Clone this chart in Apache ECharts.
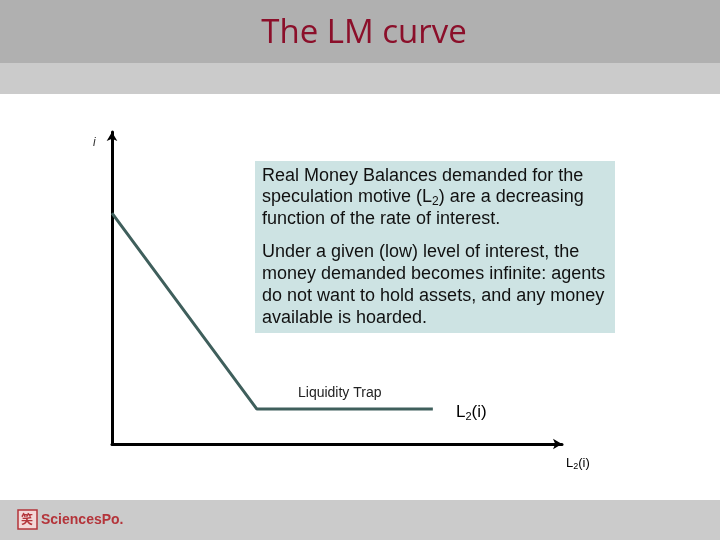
<!DOCTYPE html>
<html>
<head>
<meta charset="utf-8">
<script src="https://cdn.jsdelivr.net/npm/echarts@6/dist/echarts.min.js"></script>
<style>
html,body{margin:0;padding:0;background:#fff;}
#c{width:720px;height:540px;}
</style>
</head>
<body>
<div id="c"></div>
<script>
// Data (L2 demand curve: money balances vs interest rate)
var moneyValues = [0, 32.2, 71.3];
var interestValues = [74, 11.2, 11.2];
var titleText = 'The LM curve';
var boxParagraph1 = ['{n|Real Money Balances demanded for the}', '{n|speculation motive (L}{s|2}{n|) are a decreasing}', '{n|function of the rate of interest.}'];
var boxParagraph2 = ['{n|Under a given (low) level of interest, the}', '{n|money demanded becomes infinite: agents}', '{n|do not want to hold assets, and any money}', '{n|available is hoarded.}'];

var points = moneyValues.map(function (x, i) { return [x, interestValues[i]]; });

var chart = echarts.init(document.getElementById('c'), null, {renderer: 'canvas'});

var textRich = {
  n: {fontFamily: 'Liberation Sans, Arial', fontSize: 18, color: '#111', lineHeight: 20},
  s: {fontFamily: 'Liberation Sans, Arial', fontSize: 12, color: '#111', lineHeight: 20, padding: [9, 0, 0, 0]}
};

function lineTxt(str, y) {
  return {type: 'text', left: 262, top: y, z: 10,
    style: {text: str, rich: textRich, fill: '#111'}};
}

var graphics = [
  {type: 'rect', shape: {x: 0, y: 0, width: 720, height: 63}, style: {fill: '#b0b0b0'}, z: 0},
  {type: 'rect', shape: {x: 0, y: 63, width: 720, height: 31}, style: {fill: '#cbcbcb'}, z: 0},
  {type: 'rect', shape: {x: 0, y: 500, width: 720, height: 40}, style: {fill: '#cbcbcb'}, z: 0},
  {type: 'text', x: 364, y: 34, z: 5, style: {text: titleText, fill: '#8b0f2a', font: '33px "Open Sans", sans-serif', textAlign: 'center', textVerticalAlign: 'middle'}},
  {type: 'rect', shape: {x: 255, y: 161, width: 360, height: 172}, style: {fill: '#cde3e3'}, z: 5},
  // footer logo
  {type: 'rect', shape: {x: 18, y: 510, width: 19, height: 19}, style: {fill: '#f3d8d8', stroke: '#b4343a', lineWidth: 1.5}, z: 5},
  {type: 'text', x: 21, y: 519, z: 6, style: {text: '\u7B11', fill: '#b4343a', font: 'bold 12px "Noto Sans CJK SC"', textVerticalAlign: 'middle'}},
  {type: 'text', x: 41, y: 520, z: 6, style: {text: 'SciencesPo.', fill: '#b4343a', font: 'bold 14px "Liberation Sans", Arial', textVerticalAlign: 'middle'}},
  // axis labels
  {type: 'text', x: 93, y: 143, z: 6, style: {text: 'i', fill: '#333', font: 'italic 12px "Liberation Sans", Arial', textVerticalAlign: 'middle'}},
  {type: 'text', x: 298, y: 393, z: 6, style: {text: 'Liquidity Trap', fill: '#222', font: '14px "Liberation Sans", Arial', textVerticalAlign: 'middle'}},
  {type: 'text', x: 456, y: 412, z: 6, style: {text: '{a|L}{b|2}{a|(i)}', rich: {
    a: {fontFamily: 'Liberation Sans, Arial', fontSize: 17, color: '#3d5b5c'},
    b: {fontFamily: 'Liberation Sans, Arial', fontSize: 11, color: '#3d5b5c', padding: [9, 0, 0, 0]}}, textVerticalAlign: 'middle'}},
  {type: 'text', x: 566, y: 463, z: 6, style: {text: '{a|L}{b|2}{a|(i)}', rich: {
    a: {fontFamily: 'Liberation Sans, Arial', fontSize: 13, color: '#333'},
    b: {fontFamily: 'Liberation Sans, Arial', fontSize: 9, color: '#333', padding: [7, 0, 0, 0]}}, textVerticalAlign: 'middle'}}
];

var p1Tops = [167, 187, 210];
boxParagraph1.forEach(function (t, i) { graphics.push(lineTxt(t, p1Tops[i])); });
var y1 = 243;
boxParagraph2.forEach(function (t, i) { graphics.push(lineTxt(t, y1 + i * 22)); });

chart.setOption({
  animation: false,
  backgroundColor: '#ffffff',
  grid: {left: 112, top: 132, right: 158, bottom: 96},
  xAxis: {
    type: 'value', min: 0, max: 100,
    axisLine: {show: true, onZero: false, symbol: ['none', 'arrow'], symbolSize: [8, 9], lineStyle: {color: '#000', width: 3}},
    axisTick: {show: false}, axisLabel: {show: false}, splitLine: {show: false}
  },
  yAxis: {
    type: 'value', min: 0, max: 100,
    axisLine: {show: true, onZero: false, symbol: ['none', 'arrow'], symbolSize: [8, 9], lineStyle: {color: '#000', width: 3}},
    axisTick: {show: false}, axisLabel: {show: false}, splitLine: {show: false}
  },
  series: [{
    type: 'line', data: points, symbol: 'none', z: 3,
    lineStyle: {color: '#3f5f5c', width: 3}
  }],
  graphic: graphics
});
</script>
</body>
</html>
